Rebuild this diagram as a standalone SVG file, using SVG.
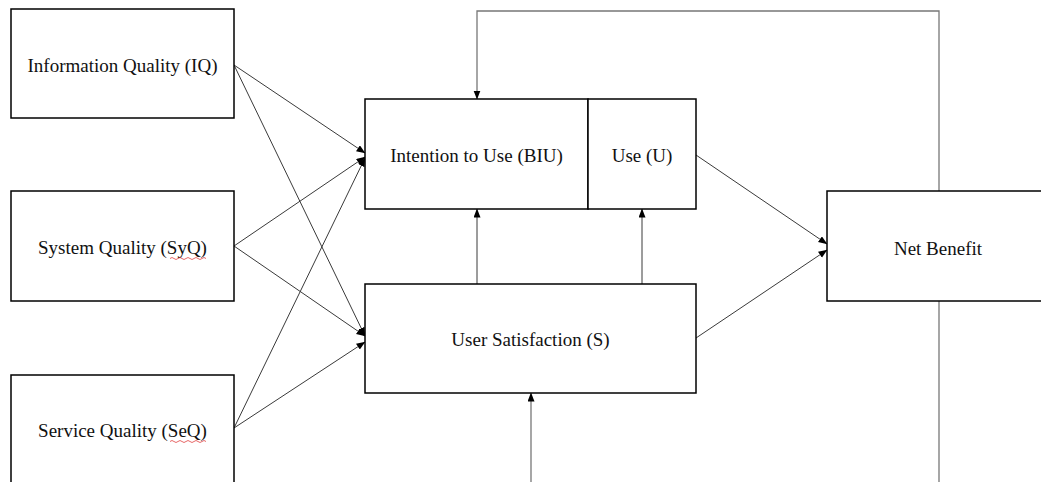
<svg xmlns="http://www.w3.org/2000/svg" width="1041" height="482" viewBox="0 0 1041 482">
<style>
.box{fill:#fff;stroke:#000;stroke-width:1.5}
.lbl{font-family:"Liberation Serif","Times New Roman",serif;font-size:19px;fill:#111;text-anchor:middle}
.c{fill:none;stroke:#3a3a3a;stroke-width:1}
.fb{fill:none;stroke:#777;stroke-width:1.3}
.sq{fill:none;stroke:#e04040;stroke-width:0.8}
</style>
<defs>
<marker id="ah" markerUnits="userSpaceOnUse" markerWidth="9" markerHeight="8" refX="8.5" refY="3.5" orient="auto">
<path d="M0,0 L9,3.5 L0,7 z" fill="#000"/>
</marker>
</defs>
<rect width="1041" height="482" fill="#fff"/>
<g id="connectors">
<line class="c" x1="234" y1="65" x2="365" y2="153" marker-end="url(#ah)"/>
<line class="c" x1="234" y1="65" x2="365" y2="336" marker-end="url(#ah)"/>
<line class="c" x1="234" y1="246" x2="365" y2="157" marker-end="url(#ah)"/>
<line class="c" x1="234" y1="246" x2="365" y2="336" marker-end="url(#ah)"/>
<line class="c" x1="234" y1="428" x2="365" y2="158" marker-end="url(#ah)"/>
<line class="c" x1="234" y1="428" x2="365" y2="342" marker-end="url(#ah)"/>
<line class="c" x1="696" y1="155" x2="827" y2="244" marker-end="url(#ah)"/>
<line class="c" x1="696" y1="338" x2="827" y2="250" marker-end="url(#ah)"/>
<line class="c" x1="477" y1="284" x2="477" y2="209" marker-end="url(#ah)"/>
<line class="c" x1="642" y1="284" x2="642" y2="209" marker-end="url(#ah)"/>
<line class="fb" x1="531" y1="482" x2="531" y2="393" marker-end="url(#ah)"/>
<polyline class="fb" points="939,191 939,11 477,11 477,99" marker-end="url(#ah)"/>
<line class="fb" x1="939" y1="301" x2="939" y2="482"/>
</g>
<g id="iq">
<rect class="box" x="11" y="9" width="223" height="109"/>
<text class="lbl" x="122.5" y="72">Information Quality (IQ)</text>
</g>
<g id="syq">
<rect class="box" x="11" y="191" width="223" height="110"/>
<text class="lbl" x="122.5" y="254">System Quality (SyQ)</text>
<path class="sq" d="M170,258.5 q2,-2 4,0 t4,0 t4,0 t4,0 t4,0 t4,0 t4,0 t4,0 t4,0"/>
</g>
<g id="seq">
<rect class="box" x="11" y="375" width="223" height="120"/>
<text class="lbl" x="122.5" y="437">Service Quality (SeQ)</text>
<path class="sq" d="M170,441.5 q2,-2 4,0 t4,0 t4,0 t4,0 t4,0 t4,0 t4,0 t4,0 t4,0"/>
</g>
<g id="biu">
<rect class="box" x="365" y="99" width="223" height="110"/>
<text class="lbl" x="476.5" y="162">Intention to Use (BIU)</text>
</g>
<g id="use">
<rect class="box" x="588" y="99" width="108" height="110"/>
<text class="lbl" x="642" y="162">Use (U)</text>
</g>
<g id="satisfaction">
<rect class="box" x="365" y="284" width="331" height="109"/>
<text class="lbl" x="530.5" y="346">User Satisfaction (S)</text>
</g>
<g id="netbenefit">
<rect class="box" x="827" y="191" width="230" height="110"/>
<text class="lbl" x="938" y="255">Net Benefit</text>
</g>
</svg>
